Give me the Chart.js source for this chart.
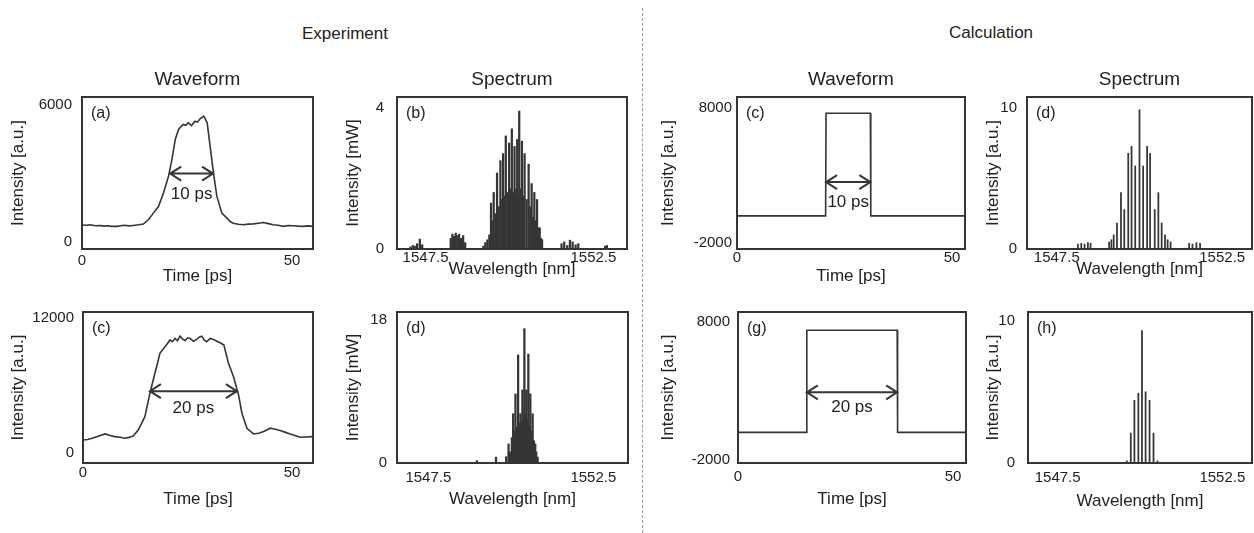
<!DOCTYPE html>
<html>
<head>
<meta charset="utf-8">
<script src="https://cdn.jsdelivr.net/npm/chart.js@4.4.0/dist/chart.umd.min.js"></script>
<style>
  body { margin: 0; background: #fff; width: 1254px; height: 533px; position: relative; overflow: hidden;
         font-family: "Liberation Sans", Arial, sans-serif; color: #222; }
  canvas { position: absolute; }
  .head { position: absolute; font-size: 17px; transform: translate(-50%, -50%); white-space: nowrap; }
  .sep { position: absolute; left: 642px; top: 8px; height: 525px; border-left: 1.5px dashed #9a9a9a; }
</style>
</head>
<body>
<div class="head" style="left:345px;top:34px">Experiment</div>
<div class="head" style="left:991px;top:33px">Calculation</div>
<div class="sep"></div>

<canvas id="pa" width="317" height="230" style="left:0px;top:60px"></canvas>
<canvas id="pb" width="296" height="230" style="left:335px;top:60px"></canvas>
<canvas id="pc" width="319" height="230" style="left:650px;top:60px"></canvas>
<canvas id="pd" width="279" height="230" style="left:975px;top:60px"></canvas>
<canvas id="pe" width="317" height="212" style="left:0px;top:308px"></canvas>
<canvas id="pf" width="297" height="212" style="left:335px;top:308px"></canvas>
<canvas id="pg" width="320" height="212" style="left:650px;top:308px"></canvas>
<canvas id="ph" width="279" height="212" style="left:975px;top:308px"></canvas>

<script>
// ---- data ----

// Experiment, 10 ps pulse: time [ps] / intensity [a.u.]
const expT10 = [0, 1, 2, 3.2, 4.3, 5.2, 6, 7.2, 8.3, 9.2, 10, 11.2, 12.2, 13.5, 14.6, 15.8, 17, 18.2, 19.4, 20.6,
  21.4, 22.2, 23, 23.6, 24.1, 24.7, 25.3, 26.1, 26.9, 27.5, 28.1, 29, 29.8, 30.5, 31.3, 32.1, 33.3, 34.5, 35.3, 36,
  37.2, 38.4, 39.6, 40.8, 42, 43.2, 44.4, 45.5, 46.7, 47.9, 49.1, 50.3, 51.5, 52.7, 53.9, 55];
const expI10 = [750, 740, 760, 720, 730, 700, 720, 690, 690, 720, 740, 710, 730, 760, 790, 980, 1270, 1560, 2150, 2880,
  3610, 4490, 4930, 5060, 5150, 5110, 5220, 5100, 5290, 5250, 5400, 5510, 5220, 4200, 3030, 2010, 1270, 1050, 900, 830,
  780, 760, 790, 800, 830, 860, 810, 760, 740, 690, 730, 720, 700, 690, 710, 690];

// Experiment, 20 ps pulse
const expT20 = [0, 1.1, 2.2, 3.8, 5.3, 6.5, 7.6, 8.8, 10, 11, 12, 13.2, 14.8, 16, 17.2, 18.4, 19.6, 20.2, 20.8, 21.4,
  22, 22.6, 23.2, 23.8, 24.4, 25, 25.6, 26.4, 27.2, 27.8, 28.4, 29, 29.6, 30.4, 31.2, 32, 32.8, 33.7, 34.8, 36,
  37.2, 38, 39.2, 40.8, 42, 43.2, 44.8, 46, 47.1, 48.3, 49.5, 50.7, 51.9, 53.3, 55];
const expI20 = [1150, 1200, 1300, 1500, 1690, 1550, 1450, 1400, 1300, 1380, 1500, 2040, 3230, 5310, 7090, 8870, 9460, 9750, 10060, 9900,
  10200, 10000, 10400, 10150, 9990, 10250, 10200, 9950, 10110, 10300, 10400, 10050, 9900, 10200, 10110, 9950, 9810, 9610, 7970, 6790,
  5160, 3530, 2190, 1690, 1750, 1900, 2200, 2100, 1990, 1850, 1690, 1550, 1390, 1420, 1450];

// Calculation, rectangular pulses
const calcT10 = [0, 20.6, 20.7, 31.0, 31.1, 53];
const calcI10 = [0, 0, 7600, 7600, 0, 0];
const calcT20 = [0, 15.9, 16.0, 37.0, 37.1, 53];
const calcI20 = [0, 0, 7400, 7400, 0, 0];

// Experiment spectra: wavelength [nm] / intensity [mW]
const expNm10 = [1547.05, 1547.12, 1547.18, 1547.25, 1547.33, 1547.40,
  1548.25, 1548.30, 1548.35, 1548.40, 1548.45, 1548.50, 1548.56, 1548.62, 1548.68,
  1549.22, 1549.28, 1549.34, 1549.40, 1549.45, 1549.49, 1549.53, 1549.58, 1549.63, 1549.68, 1549.73, 1549.77,
  1549.81, 1549.85, 1549.89, 1549.94, 1549.99, 1550.03, 1550.07, 1550.11, 1550.15, 1550.19, 1550.23, 1550.26,
  1550.29, 1550.33, 1550.37, 1550.41, 1550.45, 1550.51, 1550.57, 1550.62, 1550.66, 1550.70, 1550.74, 1550.78,
  1550.82, 1550.86, 1550.90, 1550.94, 1550.97,
  1551.55, 1551.63, 1551.72, 1551.80, 1551.88, 1551.97, 1552.05, 1552.85, 1552.90];
const expMw10 = [0.06, 0.1, 0.08, 0.15, 0.28, 0.12,
  0.3, 0.42, 0.36, 0.45, 0.38, 0.42, 0.3, 0.38, 0.18,
  0.08, 0.18, 0.26, 0.4, 1.3, 0.8, 1.6, 1.0, 2.15, 1.2, 2.5, 1.4,
  2.7, 1.5, 3.2, 1.6, 3.0, 1.7, 3.4, 1.6, 2.9, 1.7, 3.1, 1.5,
  3.9, 1.7, 3.05, 1.5, 2.7, 1.4, 2.4, 1.2, 1.85, 0.9, 1.6, 0.8,
  1.4, 0.6, 0.6, 0.3, 0.26,
  0.15, 0.2, 0.1, 0.25, 0.2, 0.12, 0.15, 0.08, 0.1];

const expNm20 = [1548.97, 1549.55, 1549.86, 1549.93, 1549.98, 1550.03, 1550.07, 1550.10, 1550.14, 1550.18,
  1550.22, 1550.25, 1550.29, 1550.32, 1550.35, 1550.38, 1550.41, 1550.44, 1550.47, 1550.50,
  1550.53, 1550.56, 1550.59, 1550.62, 1550.66, 1550.70, 1550.74, 1550.77, 1550.81];
const expMw20 = [0.3, 0.75, 0.8, 2.4, 1.4, 3.2, 6.2, 4.0, 8.7, 4.5,
  13.6, 5.0, 6.2, 5.2, 9.2, 6.0, 16.9, 6.2, 9.2, 5.5,
  13.7, 4.5, 8.7, 4.0, 6.2, 2.8, 2.4, 1.4, 0.75];

// Calculated spectra: wavelength [nm] / intensity [a.u.]
const calcNm10 = [1548.14, 1548.24, 1548.34, 1548.44, 1548.52,
  1549.08, 1549.15, 1549.22, 1549.32, 1549.44, 1549.54, 1549.66, 1549.76, 1549.87, 1550.00,
  1550.11, 1550.23, 1550.32, 1550.46, 1550.57, 1550.67, 1550.77, 1550.85, 1550.94,
  1551.50, 1551.60, 1551.72, 1551.83];
const calcAu10 = [0.35, 0.4, 0.35, 0.45, 0.4,
  0.5, 0.66, 1.0, 1.85, 4.0, 2.8, 6.8, 7.3, 5.9, 9.9,
  5.9, 7.3, 6.8, 2.8, 4.0, 1.85, 1.0, 0.66, 0.5,
  0.4, 0.35, 0.45, 0.4];

const calcNm20 = [1549.60, 1549.72, 1549.83, 1549.95, 1550.06, 1550.17, 1550.29, 1550.41, 1550.53];
const calcAu20 = [0.15, 2.1, 4.4, 4.9, 9.3, 5.0, 4.4, 2.1, 0.15];

// tick labels
const timeTicks = [0, 50];
const nmTicks = [1547.5, 1552.5];

// pulse width arrows: [from ps, to ps, level]
const arrowExp10 = [21.0, 31.2, 3000];
const arrowExp20 = [16.0, 36.8, 5500];
const arrowCalc10 = [20.7, 31.0, 2500];
const arrowCalc20 = [16.0, 37.0, 2900];

// ---- drawing ----
const INK = '#353535';
const TEXT = '#222';
Chart.defaults.font.family = '"Liberation Sans", Arial, sans-serif';
Chart.defaults.color = TEXT;

function framePlugin(p) {
  return {
    id: 'frame',
    afterDraw(chart) {
      const { ctx, chartArea: a } = chart;
      ctx.save();
      ctx.strokeStyle = INK;
      ctx.lineWidth = 2;
      ctx.strokeRect(a.left, a.top, a.right - a.left, a.bottom - a.top);
      ctx.fillStyle = TEXT;
      ctx.font = '16px "Liberation Sans", Arial, sans-serif';
      ctx.textBaseline = 'middle';
      ctx.textAlign = 'left';
      ctx.fillText(p.letter, a.left + 9, a.top + 17);
      if (p.arrow) {
        const xs = chart.scales.x, ys = chart.scales.y;
        const x1 = xs.getPixelForValue(p.arrow[0]);
        const x2 = xs.getPixelForValue(p.arrow[1]);
        const y = ys.getPixelForValue(p.arrow[2]);
        ctx.lineWidth = 2;
        ctx.beginPath();
        ctx.moveTo(x1, y); ctx.lineTo(x2, y);
        ctx.moveTo(x1 + 11, y - 7); ctx.lineTo(x1, y); ctx.lineTo(x1 + 11, y + 7);
        ctx.moveTo(x2 - 11, y - 7); ctx.lineTo(x2, y); ctx.lineTo(x2 - 11, y + 7);
        ctx.stroke();
        ctx.font = '17px "Liberation Sans", Arial, sans-serif';
        ctx.textAlign = 'center';
        ctx.fillText(p.arrowText, (x1 + x2) / 2, y + p.labelDy);
      }
      ctx.restore();
    }
  };
}

function makePanel(p) {
  const isBar = p.kind === 'bar';
  const points = p.xs.map((x, i) => ({ x: x, y: p.ys[i] }));
  const dataset = isBar
    ? { data: points, backgroundColor: INK, borderWidth: 0, barThickness: p.barW }
    : { data: points, borderColor: INK, borderWidth: 1.6, pointRadius: 0, tension: 0, fill: false };

  new Chart(document.getElementById(p.id), {
    type: isBar ? 'bar' : 'line',
    data: { datasets: [dataset] },
    options: {
      responsive: false,
      animation: false,
      events: [],
      layout: { padding: { top: p.padTop, right: p.padRight, left: 0, bottom: 0 } },
      plugins: {
        legend: { display: false },
        tooltip: { enabled: false },
        title: {
          display: !!p.title,
          text: p.title || '',
          fullSize: false,
          color: TEXT,
          font: { size: 19, weight: 'normal' },
          padding: { top: 8.6, bottom: 5.6 }
        }
      },
      scales: {
        x: {
          type: 'linear',
          min: p.xMin,
          max: p.xMax,
          offset: false,
          grid: { display: false, drawTicks: false, offset: false },
          border: { display: false },
          afterBuildTicks: s => { s.ticks = p.xTicks.map(v => ({ value: v })); },
          afterFit: s => { s.height = p.xH; s.paddingLeft = 0; s.paddingRight = 0; },
          ticks: { padding: p.xTickPad, font: { size: 15 }, color: TEXT, maxRotation: 0, autoSkip: false,
                   callback: v => String(v) },
          title: { display: true, text: p.xTitle, color: TEXT, font: { size: 17 },
                   padding: { top: 0, bottom: p.xTitlePad } }
        },
        y: {
          type: 'linear',
          min: p.yMin,
          max: p.yMax,
          grid: { display: false, drawTicks: false },
          border: { display: false },
          afterBuildTicks: s => { s.ticks = p.yTicks.map(v => ({ value: v })); },
          afterFit: s => { s.width = p.yW; s.paddingTop = 0; s.paddingBottom = 0; },
          ticks: { padding: p.yTickPad, font: { size: 15 }, color: TEXT, callback: v => String(v) },
          title: { display: true, text: p.yTitle, color: TEXT, font: { size: 17 },
                   padding: { top: 8, bottom: 0 } }
        }
      }
    },
    plugins: [framePlugin(p)]
  });
}

const panels = [
  { id: 'pa', kind: 'line', xs: expT10, ys: expI10, title: 'Waveform', letter: '(a)',
    xMin: 0, xMax: 55, xTicks: timeTicks, yMin: -300, yMax: 6350, yTicks: [0, 6000],
    xTitle: 'Time [ps]', yTitle: 'Intensity [a.u.]', arrow: arrowExp10, arrowText: '10 ps', labelDy: 21,
    padTop: 0, padRight: 4, yW: 82, xH: 41, yTickPad: 10, xTickPad: 3, xTitlePad: 3 },
  { id: 'pb', kind: 'bar', xs: expNm10, ys: expMw10, barW: 1.6, title: 'Spectrum', letter: '(b)',
    xMin: 1546.65, xMax: 1553.5, xTicks: nmTicks, yMin: 0, yMax: 4.3, yTicks: [0, 4],
    xTitle: 'Wavelength [nm]', yTitle: 'Intensity [mW]',
    padTop: 0, padRight: 4, yW: 62, xH: 41, yTickPad: 13, xTickPad: 0, xTitlePad: 10 },
  { id: 'pc', kind: 'line', xs: calcT10, ys: calcI10, title: 'Waveform', letter: '(c)',
    xMin: 0, xMax: 53, xTicks: timeTicks, yMin: -2450, yMax: 8800, yTicks: [-2000, 8000],
    xTitle: 'Time [ps]', yTitle: 'Intensity [a.u.]', arrow: arrowCalc10, arrowText: '10 ps', labelDy: 20,
    padTop: 0, padRight: 4, yW: 87, xH: 41, yTickPad: 5, xTickPad: 0, xTitlePad: 3 },
  { id: 'pd', kind: 'bar', xs: calcNm10, ys: calcAu10, barW: 1.1, title: 'Spectrum', letter: '(d)',
    xMin: 1546.6, xMax: 1553.4, xTicks: nmTicks, yMin: 0, yMax: 10.8, yTicks: [0, 10],
    xTitle: 'Wavelength [nm]', yTitle: 'Intensity [a.u.]',
    padTop: 0, padRight: 2, yW: 52, xH: 41, yTickPad: 10, xTickPad: 0, xTitlePad: 10 },
  { id: 'pe', kind: 'line', xs: expT20, ys: expI20, letter: '(c)',
    xMin: 0, xMax: 55, xTicks: timeTicks, yMin: -900, yMax: 12550, yTicks: [0, 12000],
    xTitle: 'Time [ps]', yTitle: 'Intensity [a.u.]', arrow: arrowExp20, arrowText: '20 ps', labelDy: 17,
    padTop: 4, padRight: 4, yW: 83, xH: 57, yTickPad: 9, xTickPad: 1, xTitlePad: 10 },
  { id: 'pf', kind: 'bar', xs: expNm20, ys: expMw20, barW: 1.6, letter: '(d)',
    xMin: 1546.55, xMax: 1553.55, xTicks: nmTicks, yMin: 0, yMax: 19, yTicks: [0, 18],
    xTitle: 'Wavelength [nm]', yTitle: 'Intensity [mW]',
    padTop: 4, padRight: 4, yW: 62, xH: 57, yTickPad: 10, xTickPad: 6, xTitlePad: 10 },
  { id: 'pg', kind: 'line', xs: calcT20, ys: calcI20, letter: '(g)',
    xMin: 0, xMax: 53, xTicks: timeTicks, yMin: -2220, yMax: 8720, yTicks: [-2000, 8000],
    xTitle: 'Time [ps]', yTitle: 'Intensity [a.u.]', arrow: arrowCalc20, arrowText: '20 ps', labelDy: 15,
    padTop: 4, padRight: 4, yW: 88, xH: 57, yTickPad: 8, xTickPad: 5, xTitlePad: 10 },
  { id: 'ph', kind: 'bar', xs: calcNm20, ys: calcAu20, barW: 1.1, letter: '(h)',
    xMin: 1546.6, xMax: 1553.4, xTicks: nmTicks, yMin: 0, yMax: 10.6, yTicks: [0, 10],
    xTitle: 'Wavelength [nm]', yTitle: 'Intensity [a.u.]',
    padTop: 4, padRight: 2, yW: 53, xH: 57, yTickPad: 13, xTickPad: 6, xTitlePad: 8 }
];

panels.forEach(makePanel);
</script>
</body>
</html>
